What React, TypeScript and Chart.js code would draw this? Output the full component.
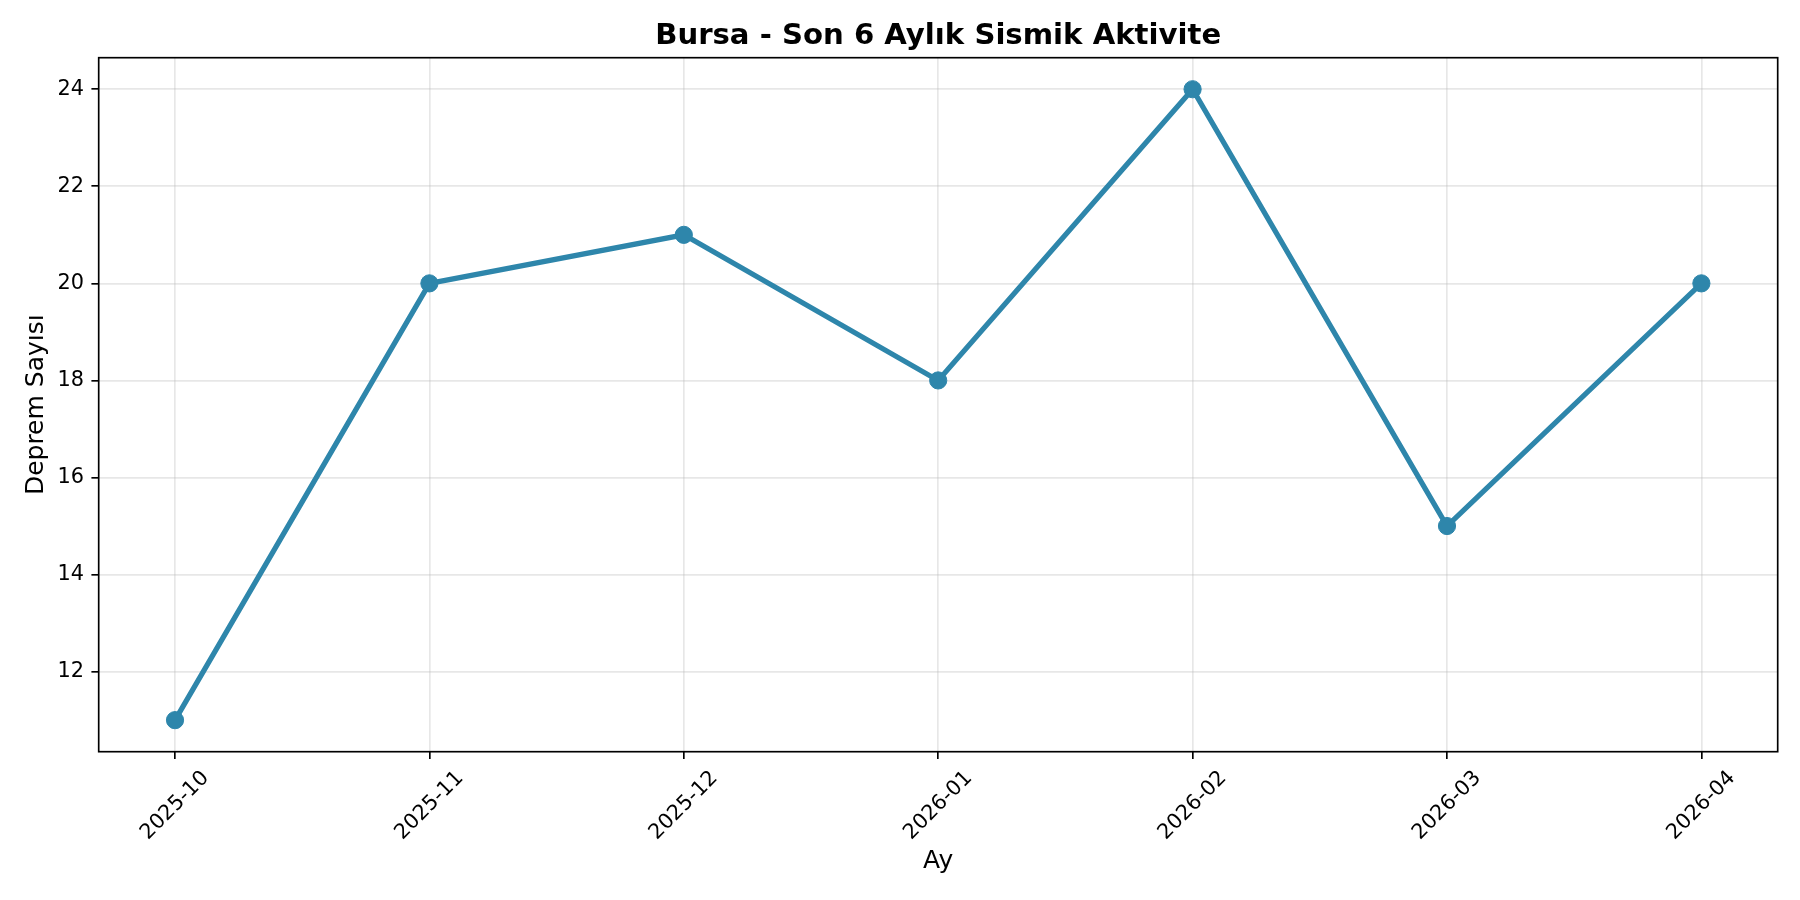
import React, { useEffect, useRef } from "react";
import { Chart, registerables } from "chart.js";

Chart.register(...registerables);

// ---- data ----
const months = ["2025-10", "2025-11", "2025-12", "2026-01", "2026-02", "2026-03", "2026-04"];
const quakeCounts = [11, 20, 21, 18, 24, 15, 20];
const yTickValues = [12, 14, 16, 18, 20, 22, 24];
const chartTitle = "Bursa - Son 6 Aylık Sismik Aktivite";
const xAxisTitle = "Ay";
const yAxisTitle = "Deprem Sayısı";

// ---- style ----
const PX = 150 / 72;
const FONT = "'DejaVu Sans', 'Liberation Sans', sans-serif";
const LINE_COLOR = "#2E86AB";
const GRID_COLOR = "rgba(176,176,176,0.3)";
const W = 1800;
const H = 900;
const AX_LEFT = 98.7;
const AX_RIGHT = 1777.7;
const AX_BOTTOM = 751.7;

const framePlugin = {
  id: "frameAndXLabels",
  afterDatasetsDraw(chart: any) {
    const { ctx, chartArea } = chart;
    const { left, top, right, bottom } = chartArea;
    ctx.save();
    ctx.strokeStyle = "#000";
    ctx.lineWidth = 0.8 * PX;
    ctx.strokeRect(left, top, right - left, bottom - top);
    ctx.restore();
  },
  afterDraw(chart: any) {
    const { ctx } = chart;
    const xs = chart.scales.x;
    const fontPx = 10 * PX;
    ctx.save();
    ctx.font = `${fontPx}px ${FONT}`;
    ctx.fillStyle = "#000";
    ctx.textAlign = "center";
    ctx.textBaseline = "middle";
    months.forEach((label, i) => {
      const x = xs.getPixelForValue(i);
      const w = ctx.measureText(label).width;
      const h = fontPx * 1.165;
      const half = ((w + h) * Math.SQRT1_2) / 2;
      const y = xs.top + 3.5 * PX + 3.5 * PX + half;
      ctx.save();
      ctx.translate(x, y);
      ctx.rotate(-Math.PI / 4);
      ctx.fillText(label, 0, 0);
      ctx.restore();
    });
    ctx.restore();
  },
};

export default function App() {
  const canvasRef = useRef<HTMLCanvasElement | null>(null);

  useEffect(() => {
    if (!canvasRef.current) return;
    const chart = new Chart(canvasRef.current, {
      type: "line",
      data: {
        datasets: [
          {
            label: yAxisTitle,
            data: quakeCounts.map((v, i) => ({ x: i, y: v })),
            borderColor: LINE_COLOR,
            backgroundColor: LINE_COLOR,
            borderWidth: 2.5 * PX,
            pointRadius: 8.6,
            pointBorderWidth: 1,
            pointBackgroundColor: LINE_COLOR,
            pointBorderColor: LINE_COLOR,
            tension: 0,
            fill: false,
          },
        ],
      },
      options: {
        animation: false,
        responsive: false,
        devicePixelRatio: 1,
        layout: { padding: { left: 0, right: W - AX_RIGHT, top: 0, bottom: 0 } },
        plugins: {
          legend: { display: false },
          tooltip: { enabled: false },
          title: {
            display: true,
            text: chartTitle,
            fullSize: false,
            color: "#000",
            font: { family: FONT, size: 14 * PX, weight: "bold", lineHeight: 1.2 },
            padding: { top: 19.4, bottom: 3.3 },
          },
        },
        scales: {
          x: {
            type: "linear",
            min: -0.3,
            max: 6.3,
            afterBuildTicks: (scale: any) => {
              scale.ticks = months.map((_, i) => ({ value: i }));
            },
            afterFit: (scale: any) => {
              scale.height = H - AX_BOTTOM;
            },
            ticks: { display: false },
            grid: {
              color: GRID_COLOR,
              lineWidth: 0.8 * PX,
              drawTicks: true,
              tickLength: 3.5 * PX,
              tickColor: "#000",
              tickWidth: 0.8 * PX,
            },
            border: { display: false },
            title: {
              display: true,
              text: xAxisTitle,
              color: "#000",
              font: { family: FONT, size: 12 * PX, lineHeight: 1.2 },
              padding: { top: 0, bottom: 23.4 },
            },
          },
          y: {
            type: "linear",
            min: 10.35,
            max: 24.65,
            afterBuildTicks: (scale: any) => {
              scale.ticks = yTickValues.map((v) => ({ value: v }));
            },
            afterFit: (scale: any) => {
              scale.width = AX_LEFT;
            },
            ticks: {
              color: "#000",
              font: { family: FONT, size: 10 * PX },
              padding: 3.5 * PX,
              callback: (v: any) => String(v),
            },
            grid: {
              color: GRID_COLOR,
              lineWidth: 0.8 * PX,
              drawTicks: true,
              tickLength: 3.5 * PX,
              tickColor: "#000",
              tickWidth: 0.8 * PX,
            },
            border: { display: false },
            title: {
              display: true,
              text: yAxisTitle,
              color: "#000",
              font: { family: FONT, size: 12 * PX, lineHeight: 1.2 },
              padding: { top: 21.6, bottom: 0 },
            },
          },
        },
      },
      plugins: [framePlugin],
    });
    return () => chart.destroy();
  }, []);

  return (
    <div style={{ position: "absolute", left: 0, top: 0, width: W, height: H, background: "#fff" }}>
      <canvas ref={canvasRef} width={W} height={H} style={{ width: W, height: H, display: "block" }} />
    </div>
  );
}
